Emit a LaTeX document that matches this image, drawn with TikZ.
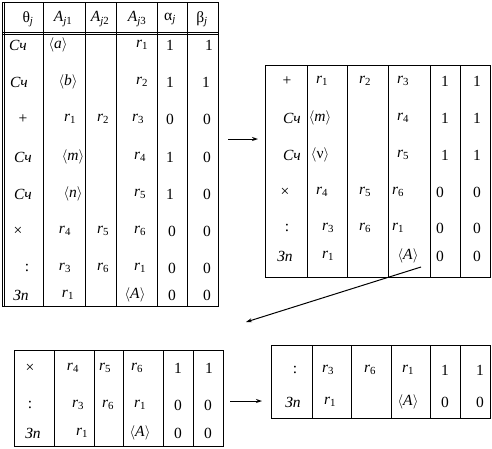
\documentclass[tikz,border=0pt]{standalone}
\usepackage{fontspec}
\setmainfont{Liberation Serif}
\usetikzlibrary{arrows.meta}
\newcommand\rr[1]{\textit{r}\textsubscript{#1}}
\newcommand\ang[1]{$\langle$#1$\rangle$}
\newcommand\Sch{\textit{Сч}}
\newcommand\Zp{\textit{Зп}}
\newcommand\trow[3]{\foreach \px/\tx [count=\i] in {#3} {\node[txt] (#1-\i) at (\px,#2) {\tx};}}
\begin{document}
\begin{tikzpicture}[x=1pt,y=-1pt,
  grid/.style={line width=1pt},
  txt/.style={font=\fontsize{15.5}{17}\selectfont, inner sep=0pt, anchor=center},
  arr/.style={line width=1pt, -{Stealth[length=6pt,width=4pt]}}]
\useasboundingbox (0,0) rectangle (492,448);
% ---- top-left table
\draw[grid] (2,2) rectangle (218,306);
\draw[grid] (4.5,2) -- (4.5,306);
\draw[grid] (2,32) -- (218,32) (2,34.5) -- (218,34.5);
\foreach \cx in {43,85,116,157,187} \draw[grid] (\cx,2) -- (\cx,306);
\trow{h}{19}{28/θ\textsubscript{\textit{j}}, 63/\textit{A}\textsubscript{\textit{j}1}, 100/\textit{A}\textsubscript{\textit{j}2}, 137/\textit{A}\textsubscript{\textit{j}3}, 170/α\textsubscript{\textit{j}}, 202/β\textsubscript{\textit{j}}}
\trow{ta}{45}{18/\Sch, 58/\ang{\textit{a}}, 142/\rr{1}, 170/1, 209/1}
\trow{tb}{82}{19/\Sch, 68/\ang{\textit{b}}, 142/\rr{2}, 170/1, 206/1}
\trow{tc}{119}{23/+, 70/\rr{1}, 103/\rr{2}, 138/\rr{3}, 170/0, 207/0}
\trow{td}{157}{23/\Sch, 73/\ang{\textit{m}}, 140/\rr{4}, 170/1, 207/0}
\trow{te}{194}{23/\Sch, 73/\ang{\textit{n}}, 140/\rr{5}, 170/1, 207/0}
\trow{tf}{231}{18/×, 65/\rr{4}, 103/\rr{5}, 140/\rr{6}, 172/0, 207/0}
\trow{tg}{268}{27/:, 65/\rr{3}, 103/\rr{6}, 140/\rr{1}, 172/0, 207/0}
\trow{th}{295}{21/\Zp, 68/\rr{1}, 135/\ang{\textit{A}}, 172/0, 207/0}
% ---- top-right table
\draw[grid] (265,65) rectangle (490,277);
\foreach \cx in {307,347,388,430,460} \draw[grid] (\cx,65) -- (\cx,277);
\trow{ra}{81}{287/+, 322/\rr{1}, 365/\rr{2}, 403/\rr{3}, 445/1, 477/1}
\trow{rb}{118}{292/\Sch, 320/\ang{\textit{m}}, 403/\rr{4}, 445/1, 477/1}
\trow{rc}{155}{292/\Sch, 320/\ang{ν}, 403/\rr{5}, 445/1, 477/1}
\trow{rd}{192}{285/×, 322/\rr{4}, 365/\rr{5}, 398/\rr{6}, 440/0, 477/0}
\trow{re}{228}{287/:, 328/\rr{3}, 365/\rr{6}, 398/\rr{1}, 440/0, 477/0}
\trow{rf}{256}{285/\Zp, 328/\rr{1}, 408/\ang{\textit{A}}, 440/0, 477/0}
% ---- bottom-left table
\draw[grid] (14,350) rectangle (223,446);
\foreach \cx in {54,94,123,163,193} \draw[grid] (\cx,350) -- (\cx,446);
\trow{la}{368}{30/×, 73/\rr{4}, 105/\rr{5}, 137/\rr{6}, 178/1, 209/1}
\trow{lb}{405}{30/:, 78/\rr{3}, 108/\rr{6}, 140/\rr{1}, 178/0, 208/0}
\trow{lc}{433}{33/\Zp, 82/\rr{1}, 140/\ang{\textit{A}}, 178/0, 208/0}
% ---- bottom-right table
\draw[grid] (271,345) rectangle (490,418);
\foreach \cx in {312,351,391,430,460} \draw[grid] (\cx,345) -- (\cx,418);
\trow{ba}{370}{295/:, 328/\rr{3}, 370/\rr{6}, 408/\rr{1}, 445/1, 480/1}
\trow{bb}{402}{293/\Zp, 330/\rr{1}, 408/\ang{\textit{A}}, 445/0, 480/0}
% ---- arrows
\coordinate (a1s) at (228,139); \coordinate (a1e) at (258,139);
\coordinate (a2s) at (421,267); \coordinate (a2e) at (246,322);
\coordinate (a3s) at (230,401); \coordinate (a3e) at (262,401);
\draw[arr] (a1s) -- (a1e);
\draw[arr] (a2s) -- (a2e);
\draw[arr] (a3s) -- (a3e);
\end{tikzpicture}
\end{document}
